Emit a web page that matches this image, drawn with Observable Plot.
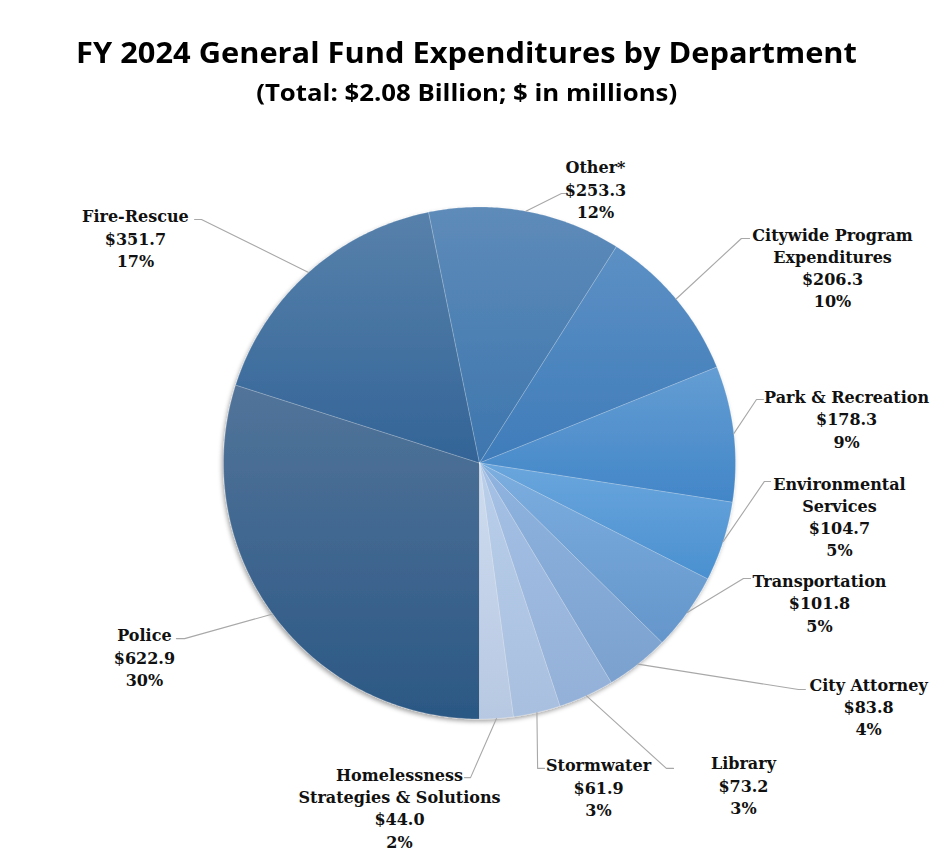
<!DOCTYPE html>
<html>
<head>
<meta charset="utf-8">
<script src="https://cdn.jsdelivr.net/npm/d3@7"></script>
<script src="https://cdn.jsdelivr.net/npm/@observablehq/plot@0.6"></script>
<style>
  body { margin: 0; background: #fff; }
  #wrap { width: 933px; }
  #head { position: relative; height: 120px; }
  #title { position: absolute; left: 0; width: 933px; top: 33px; text-align: center;
           font: 700 28px "Open Sans"; line-height: 38px; color: #000;
           transform: scaleX(1.10); transform-origin: 466px 0; }
  #sub { position: absolute; left: 0; width: 933px; top: 77px; text-align: center;
         font: 700 23px "Open Sans"; line-height: 30px; color: #000;
         transform: scaleX(1.12); transform-origin: 465px 0; }
  svg { display: block; }
</style>
</head>
<body>
<div id="wrap">
  <div id="head">
    <div id="title">FY 2024 General Fund Expenditures by Department</div>
    <div id="sub">(Total: $2.08 Billion; $ in millions)</div>
  </div>
  <div id="chart"></div>
</div>
<script>
// ---- data ----
const departments = ["Police", "Fire-Rescue", "Other*", "Citywide Program\nExpenditures",
  "Park & Recreation", "Environmental\nServices", "Transportation", "City Attorney",
  "Library", "Stormwater", "Homelessness\nStrategies & Solutions"];
const amounts = [622.9, 351.7, 253.3, 206.3, 178.3, 104.7, 101.8, 83.8, 73.2, 61.9, 44.0];
const percents = ["30%", "17%", "12%", "10%", "9%", "5%", "5%", "4%", "3%", "3%", "2%"];

// ---- style: gradient colors per slice (top, bottom) ----
const topColors = ["#52749a", "#5781ab", "#5e8bb9", "#5c90c4", "#649dd3", "#6aa6dd",
  "#7caee0", "#90b4df", "#a6c1e5", "#b9cfea", "#cfdcef"];
const bottomColors = ["#2b5884", "#336497", "#3d76ae", "#3f7cba", "#4286c8", "#4a90d0",
  "#6596cb", "#7ba1cf", "#93b0d8", "#a8bfdf", "#b7c8e2"];

// ---- layout of labels (pie-radius units from center, y up) ----
const labelPos = [[-1.309, -0.756], [-1.344, 0.881], [0.453, 1.072], [1.379, 0.766],
  [1.434, 0.175], [1.406, -0.207], [1.328, -0.544], [1.520, -0.948],
  [1.031, -1.256], [0.465, -1.264], [-0.3125, -1.344]];
const leaderElbow = [[-1.152, -0.686], [-1.086, 0.951], [0.320, 1.053], [1.023, 0.877],
  [1.082, 0.248], [1.113, -0.072], [1.031, -0.451], [1.246, -0.885],
  [0.730, -1.193], [0.227, -1.193], [-0.035, -1.229]];
const leaderEnd = [[-1.184, -0.686], [-1.113, 0.951], [0.344, 1.053], [1.055, 0.877],
  [1.109, 0.248], [1.137, -0.072], [1.059, -0.451], [1.273, -0.885],
  [0.758, -1.193], [0.254, -1.193], [-0.059, -1.229]];

// ---- build geometry ----
const arcs = d3.pie().sort(null).startAngle(Math.PI).endAngle(3 * Math.PI)(amounts);
const slicePts = [];
arcs.forEach((a, i) => {
  slicePts.push({k: i, x: 0, y: 0});
  const n = Math.max(2, Math.ceil((a.endAngle - a.startAngle) / 0.01));
  for (let j = 0; j <= n; j++) {
    const t = a.startAngle + (a.endAngle - a.startAngle) * j / n;
    slicePts.push({k: i, x: Math.sin(t), y: Math.cos(t)});
  }
  slicePts.push({k: i, x: 0, y: 0});
});
const leaderPts = [];
arcs.forEach((a, i) => {
  const m = (a.startAngle + a.endAngle) / 2;
  leaderPts.push({k: i, x: Math.sin(m), y: Math.cos(m)});
  leaderPts.push({k: i, x: leaderElbow[i][0], y: leaderElbow[i][1]});
  leaderPts.push({k: i, x: leaderEnd[i][0], y: leaderEnd[i][1]});
});
const labels = departments.map((d, i) => ({
  text: `${d}\n$${amounts[i].toFixed(1)}\n${percents[i]}`,
  x: labelPos[i][0], y: labelPos[i][1]
}));

const W = 933, H = 739, cx = 479, cy = 342.5, R = 256;
const chart = Plot.plot({
  width: W, height: H,
  margin: 0,
  x: {domain: [-cx / R, (W - cx) / R], axis: null},
  y: {domain: [-(H - cy) / R, cy / R], axis: null},
  color: {type: "identity"},
  marks: [
    Plot.line(slicePts, {x: "x", y: "y", z: "k", fill: d => `url(#grad${d.k})`,
      stroke: "#ffffff", strokeOpacity: 0.25, strokeWidth: 0.75, curve: "linear"}),
    Plot.line(leaderPts, {x: "x", y: "y", z: "k", stroke: "#a8a8a8", strokeWidth: 1.1}),
    Plot.text(labels, {x: "x", y: "y", text: "text", textAnchor: "middle",
      fontFamily: "DejaVu Serif", fontWeight: "bold", fontSize: 16,
      lineHeight: 1.39, fill: "#111"})
  ]
});

const svg = d3.select(chart);
const defs = svg.insert("defs", ":first-child");
const f = defs.append("filter").attr("id", "shadow")
  .attr("x", "-10%").attr("y", "-10%").attr("width", "120%").attr("height", "120%");
f.append("feDropShadow").attr("dx", -1.5).attr("dy", 2.5).attr("stdDeviation", 2)
  .attr("flood-color", "#000").attr("flood-opacity", 0.35);
topColors.forEach((c, i) => {
  const g = defs.append("linearGradient").attr("id", `grad${i}`)
    .attr("x1", 0).attr("y1", 0).attr("x2", 0).attr("y2", 1);
  g.append("stop").attr("offset", "0%").attr("stop-color", c);
  g.append("stop").attr("offset", "100%").attr("stop-color", bottomColors[i]);
});
svg.select('g[aria-label="line"]').attr("filter", "url(#shadow)");
document.getElementById("chart").appendChild(chart);
</script>
</body>
</html>
